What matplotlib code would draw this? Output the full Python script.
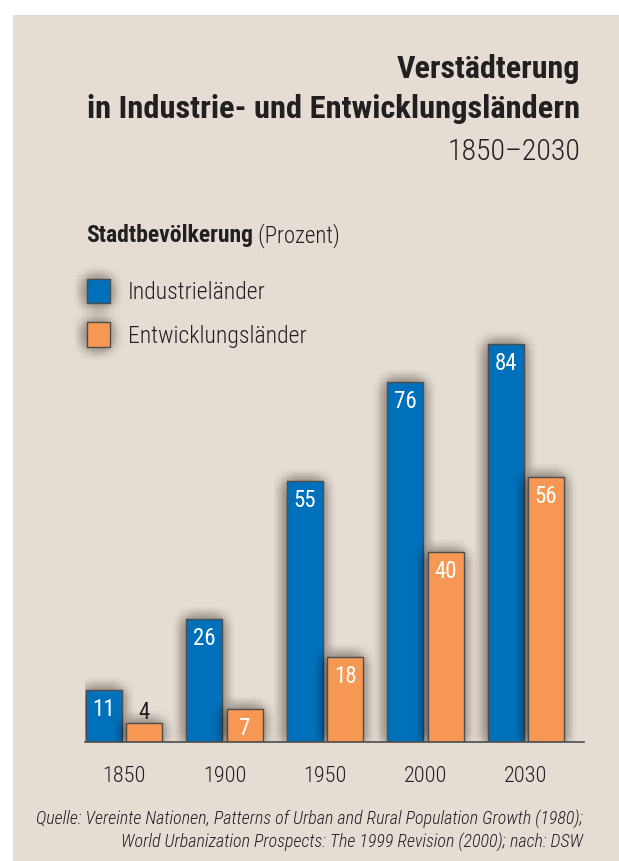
import numpy as np
import matplotlib
matplotlib.use("Agg")
import matplotlib.pyplot as plt
from matplotlib import patheffects as pe
from matplotlib.patches import Rectangle
from matplotlib import font_manager as fm

# ---------------- data ----------------
years = ["1850", "1900", "1950", "2000", "2030"]
industrie = [11, 26, 55, 76, 84]
entwicklung = [4, 7, 18, 40, 56]
series_labels = ["Industrieländer", "Entwicklungsländer"]

title_l1 = "Verstädterung"
title_l2 = "in Industrie- und Entwicklungsländern"
title_l3 = "1850\u20132030"
ylabel_bold = "Stadtbevölkerung"
ylabel_rest = " (Prozent)"
source_l1 = "Quelle: Vereinte Nationen, Patterns of Urban and Rural Population Growth (1980);"
source_l2 = "World Urbanization Prospects: The 1999 Revision (2000); nach: DSW"

# ---------------- style ----------------
names = {f.name for f in fm.fontManager.ttflist}
cands = ["Roboto Condensed", "Liberation Sans Narrow", "DejaVu Sans Condensed",
         "Open Sans Condensed", "Roboto", "DejaVu Sans"]
FAM = [n for n in cands if n in names] + ["DejaVu Sans"]
plt.rcParams["font.family"] = FAM
plt.rcParams["font.stretch"] = "condensed"
BG = "#e5ddd4"
BLUE = "#0070ba"
ORANGE = "#f69854"
EDGE = "#4d4d4d"
TXT = "#231f20"
LIGHT = "light"

W, H = 619, 861
fig = plt.figure(figsize=(W / 100, H / 100), dpi=100, facecolor="white")

def fx(x):
    return x / W

def fy(y):
    return 1 - y / H

# beige panel
fig.patches.append(Rectangle((fx(13), 0), 1 - fx(13), fy(15), transform=fig.transFigure,
                             facecolor=BG, edgecolor="none", zorder=-10))

# soft shadow path effect
shadow = []
for r in [1.4, 2.8, 4.2, 5.6, 7.0, 8.4, 9.8]:
    for a in np.linspace(0, 2 * np.pi, 16, endpoint=False):
        shadow.append(pe.SimplePatchShadow(offset=(r * np.cos(a) - 0.5, r * np.sin(a) - 0.3),
                                           shadow_rgbFace="#3b3029", alpha=0.009))
shadow.append(pe.Normal())

# axes: baseline at y=742 px, 4.74 px per percent
base_px, top_px = 742, 300
left_px, right_px = 85, 584
ax = fig.add_axes([fx(left_px), fy(base_px), fx(right_px) - fx(left_px), (base_px - top_px) / H])
ax.set_facecolor("none")
ppu = 4.74
ax.set_ylim(0, (base_px - top_px) / ppu)
gs = 100.5
ax.set_xlim(-(124 - left_px) / gs, 4 + (right_px - 526) / gs)

x = np.arange(len(years))
bw = 0.36
off = 0.2
b1 = ax.bar(x - off, industrie, bw, color=BLUE, edgecolor=EDGE, linewidth=1.0,
            label=series_labels[0], zorder=3)
b2 = ax.bar(x + off, entwicklung, bw, color=ORANGE, edgecolor=EDGE, linewidth=1.0,
            label=series_labels[1], zorder=3)
for p in list(b1) + list(b2):
    p.set_path_effects(shadow)

# value labels
for bars, vals in ((b1, industrie), (b2, entwicklung)):
    for bar, v in zip(bars, vals):
        cx = bar.get_x() + bar.get_width() / 2
        if v >= 6:
            ax.annotate(str(v), (cx, v), xytext=(0, -26 * 0.72), textcoords="offset points",
                        ha="center", va="baseline", color="white", fontsize=16.5, zorder=5)
        else:
            ax.annotate(str(v), (cx, v), xytext=(0, 4 * 0.72), textcoords="offset points",
                        ha="center", va="baseline", color=TXT, fontsize=16.5, zorder=5)

# axes styling
for s in ("top", "right", "left"):
    ax.spines[s].set_visible(False)
ax.spines["bottom"].set_color("#4d4d4d")
ax.spines["bottom"].set_linewidth(1.2)
ax.spines["bottom"].set_zorder(4)
ax.set_yticks([])
ax.set_xticks(x)
ax.set_xticklabels(years, fontsize=16, color=TXT, fontweight=LIGHT)
ax.tick_params(axis="x", length=0, pad=40 * 0.72)
for lab in ax.get_xticklabels():
    lab.set_va("baseline")

# legend
leg = ax.legend(handles=[b1, b2], loc="upper left",
                bbox_to_anchor=(fx(87), fy(279)), bbox_transform=fig.transFigure,
                frameon=False, handlelength=0.97, handleheight=1.2,
                handletextpad=0.75, labelspacing=0.78, borderpad=0, borderaxespad=0,
                prop={"size": 17, "weight": LIGHT})
for t in leg.get_texts():
    t.set_color(TXT)

# titles
fig.text(fx(580), fy(78), title_l1, ha="right", va="baseline", fontsize=23,
         fontweight="bold", color=TXT)
fig.text(fx(580), fy(118), title_l2, ha="right", va="baseline", fontsize=23.4,
         fontweight="bold", color=TXT)
fig.text(fx(580), fy(160), title_l3, ha="right", va="baseline", fontsize=21.5,
         fontweight=LIGHT, color=TXT)

t1 = fig.text(fx(86), fy(242), ylabel_bold, ha="left", va="baseline", fontsize=17,
              fontweight="bold", color=TXT)
fig.canvas.draw()
bb = t1.get_window_extent()
fig.text(bb.x1 / W, fy(242), ylabel_rest, ha="left", va="baseline", fontsize=16.5,
         fontweight=LIGHT, color=TXT)

# source
fig.text(fx(583), fy(825), source_l1, ha="right", va="baseline", fontsize=12.95,
         style="italic", fontweight=LIGHT, color=TXT)
fig.text(fx(583), fy(848), source_l2, ha="right", va="baseline", fontsize=12.95,
         style="italic", fontweight=LIGHT, color=TXT)

fig.savefig("out.png", dpi=100, facecolor="white")
